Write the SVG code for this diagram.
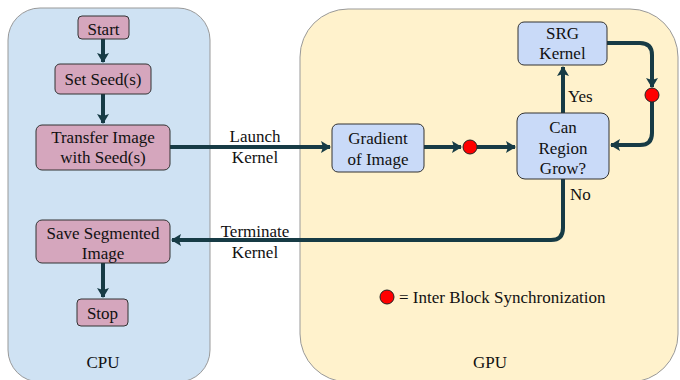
<svg xmlns="http://www.w3.org/2000/svg" width="680" height="380" viewBox="0 0 680 380" font-family="'Liberation Serif', 'Times New Roman', serif">
<style>
  text { font-family: 'Liberation Serif', 'Times New Roman', serif; font-size: 17px; fill: #111; }
  .c { text-anchor: middle; }
  .pink { fill: #d5a6bd; stroke: #333; stroke-width: 1; }
  .blue { fill: #c9daf8; stroke: #333; stroke-width: 1; }
  .conn { fill: none; stroke: #173b45; stroke-width: 4; }
  .sync { fill: #ff0000; stroke: #222; stroke-width: 1; }
</style>
<defs>
  <marker id="ah" markerUnits="userSpaceOnUse" markerWidth="12" markerHeight="14" refX="9" refY="7" orient="auto">
    <path d="M0,1 L10,7 L0,13 L2,7 Z" fill="#173b45"/>
  </marker>
</defs>

<g id="cpu">
  <rect x="8" y="8" width="202" height="374" rx="32" ry="32" fill="#cfe2f3" stroke="#999" stroke-width="1"/>
  <text class="c" x="103" y="368">CPU</text>
</g>
<g id="gpu">
  <rect x="300" y="9" width="378" height="373" rx="48" ry="48" fill="#fff2cc" stroke="#999" stroke-width="1"/>
  <text class="c" x="490" y="368">GPU</text>
</g>

<g id="connectors">
  <path class="conn" d="M103,38 V62" marker-end="url(#ah)"/>
  <path class="conn" d="M103,94 V123" marker-end="url(#ah)"/>
  <path class="conn" d="M170,147 H330" marker-end="url(#ah)"/>
  <path class="conn" d="M424,147 H461" marker-end="url(#ah)"/>
  <path class="conn" d="M477,147 H515" marker-end="url(#ah)"/>
  <path class="conn" d="M563,113 V67" marker-end="url(#ah)"/>
  <path class="conn" d="M607,43 H640 Q652,43 652,55 V87" marker-end="url(#ah)"/>
  <path class="conn" d="M652,102 V133 Q652,145 640,145 H611" marker-end="url(#ah)"/>
  <path class="conn" d="M563,179 V228 Q563,240 551,240 H172" marker-end="url(#ah)"/>
  <path class="conn" d="M103,263 V297" marker-end="url(#ah)"/>
</g>

<g id="start">
  <rect class="pink" x="78" y="16" width="51" height="23" rx="4"/>
  <text class="c" x="103.5" y="35">Start</text>
</g>
<g id="set-seed">
  <rect class="pink" x="55" y="64" width="96" height="30" rx="5"/>
  <text class="c" x="103" y="85">Set Seed(s)</text>
</g>
<g id="transfer">
  <rect class="pink" x="36" y="125" width="134" height="45" rx="6"/>
  <text class="c" x="103" y="143">Transfer Image</text>
  <text class="c" x="103" y="163">with Seed(s)</text>
</g>
<g id="save">
  <rect class="pink" x="36" y="220" width="134" height="43" rx="6"/>
  <text class="c" x="103" y="239">Save Segmented</text>
  <text class="c" x="103" y="259">Image</text>
</g>
<g id="stop">
  <rect class="pink" x="77" y="299" width="51" height="27" rx="4"/>
  <text class="c" x="102.5" y="319">Stop</text>
</g>

<g id="gradient">
  <rect class="blue" x="332" y="124" width="92" height="48" rx="6"/>
  <text class="c" x="378" y="144">Gradient</text>
  <text class="c" x="378" y="165">of Image</text>
</g>
<g id="can-grow">
  <rect class="blue" x="517" y="113" width="92" height="66" rx="8"/>
  <text class="c" x="563" y="133">Can</text>
  <text class="c" x="563" y="154">Region</text>
  <text class="c" x="563" y="174">Grow?</text>
</g>
<g id="srg">
  <rect class="blue" x="518" y="22" width="89" height="43" rx="6"/>
  <text class="c" x="562.5" y="39">SRG</text>
  <text class="c" x="562.5" y="59">Kernel</text>
</g>

<g id="sync1"><circle class="sync" cx="470" cy="147" r="7"/></g>
<g id="sync2"><circle class="sync" cx="652" cy="95" r="7"/></g>

<g id="labels">
  <text class="c" x="255" y="142">Launch</text>
  <text class="c" x="255" y="163">Kernel</text>
  <text class="c" x="255" y="237">Terminate</text>
  <text class="c" x="255" y="258">Kernel</text>
  <text x="568" y="102">Yes</text>
  <text x="570" y="200">No</text>
</g>

<g id="legend">
  <circle class="sync" cx="387" cy="297" r="7"/>
  <text x="399" y="303">= Inter Block Synchronization</text>
</g>
</svg>
